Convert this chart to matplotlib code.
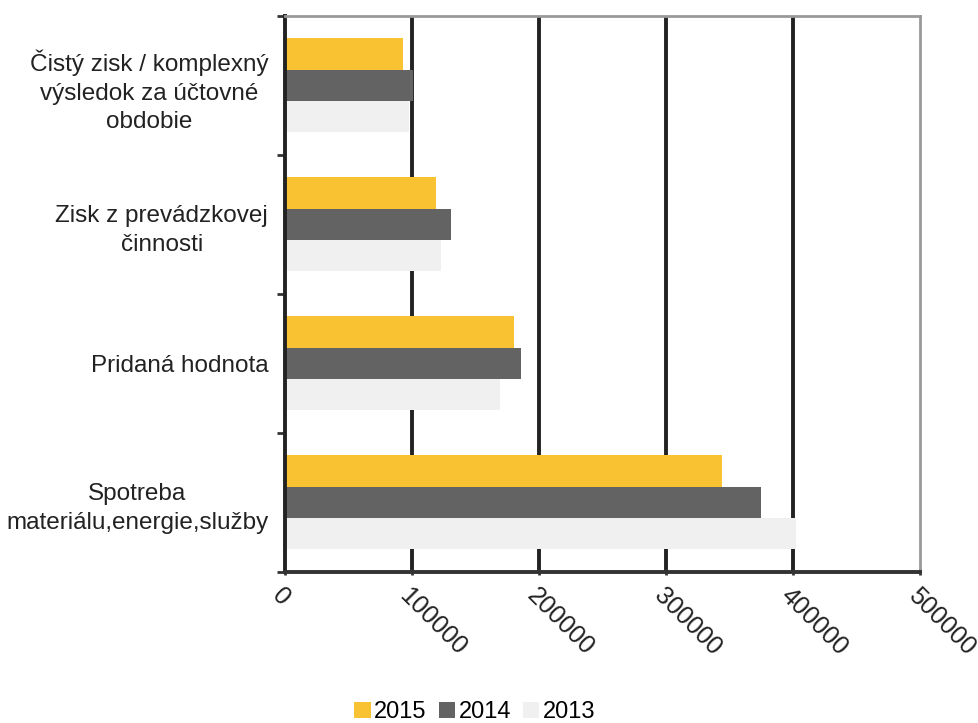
import matplotlib
matplotlib.use("Agg")
import matplotlib.pyplot as plt
import numpy as np

plt.rcParams['font.family'] = ['Liberation Sans', 'DejaVu Sans']

# categories from top to bottom
categories = [
    "Čistý zisk / komplexný\nvýsledok za účtovné\nobdobie",
    "Zisk z prevádzkovej\nčinnosti",
    "Pridaná hodnota",
    "Spotreba\nmateriálu,energie,služby",
]
years = ["2015", "2014", "2013"]
v2015 = [93000, 119000, 180000, 344000]
v2014 = [101000, 131000, 186000, 375000]
v2013 = [98000, 123000, 169000, 402000]
colors = ["#F8C232", "#636363", "#F0F0F0"]

xticks = [0, 100000, 200000, 300000, 400000, 500000]

fig = plt.figure(figsize=(9.79, 7.23), dpi=100)
ax = fig.add_axes([0.291, 0.209, 0.649, 0.769])

y = np.arange(len(categories))
h = 0.225
for i, (vals, yr) in enumerate(zip([v2015, v2014, v2013], years)):
    ax.barh(y + (i - 1) * h, vals, h, color=colors[i], label=yr, zorder=2)

ax.set_xlim(0, 500000)
ax.set_ylim(len(categories) - 0.5, -0.5)
ax.set_xticks(xticks)
ax.set_xticklabels([str(t) for t in xticks], rotation=-45, ha='left', va='top',
                   rotation_mode='anchor', fontsize=18, color='#222222')
ax.tick_params(axis='x', length=5, width=2, direction='inout', pad=6, color='#333333')

ax.set_yticks(y)
ax.set_yticklabels(categories, fontsize=17.5, ha='right', multialignment='center',
                   color='#222222', linespacing=1.4)
ax.tick_params(axis='y', length=0, pad=12)
ax.set_yticks(np.arange(-0.5, len(categories), 1.0), minor=True)
ax.tick_params(axis='y', which='minor', length=6, width=2, color='#333333')

# dark vertical gridlines
for t in xticks[1:-1]:
    ax.axvline(t, color='#222222', linewidth=2.8, zorder=1)

ax.spines['left'].set_color('#222222')
ax.spines['left'].set_linewidth(2.8)
ax.spines['bottom'].set_color('#333333')
ax.spines['bottom'].set_linewidth(2.8)
ax.spines['top'].set_color('#999999')
ax.spines['top'].set_linewidth(2)
ax.spines['right'].set_color('#999999')
ax.spines['right'].set_linewidth(2)

fig.legend(loc='lower center', bbox_to_anchor=(0.485, -0.03), ncol=3, frameon=False,
           fontsize=17, handlelength=0.7, handleheight=0.7, handletextpad=0.15,
           columnspacing=0.5)

fig.savefig("out.png", dpi=100)
